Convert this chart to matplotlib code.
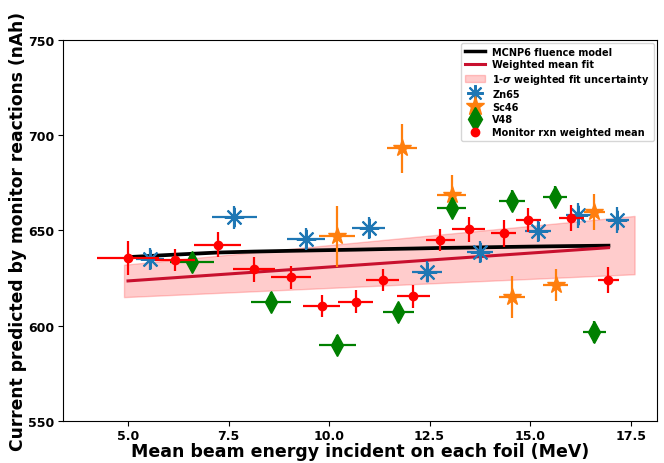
import numpy as np
import matplotlib
matplotlib.use("Agg")
import matplotlib.pyplot as plt
from matplotlib.lines import Line2D
from matplotlib.patches import Patch

plt.rcParams['font.weight'] = 'bold'
plt.rcParams['axes.labelweight'] = 'bold'

# monitor reaction weighted means
mon_E = [5.0, 6.17, 7.23, 8.13, 9.05, 9.82, 10.66, 11.33, 12.1, 12.77, 13.47, 14.34, 14.96, 16.03, 16.95]
mon_I = [635.5, 634.5, 642.5, 629.5, 625.5, 610.5, 612.5, 624.0, 615.5, 645.0, 650.5, 648.5, 655.5, 656.5, 624.0]
mon_dE = [0.78, 0.5, 0.58, 0.53, 0.5, 0.46, 0.44, 0.41, 0.4, 0.36, 0.4, 0.31, 0.31, 0.32, 0.27]
mon_dI = [9.0, 6.0, 6.5, 6.5, 6.0, 5.8, 6.0, 6.0, 6.0, 6.0, 6.5, 7.0, 6.5, 7.0, 7.0]

zn_E = [5.54, 7.64, 9.43, 10.99, 12.43, 13.75, 15.2, 16.2, 17.17]
zn_I = [635.0, 657.0, 645.5, 651.3, 628.2, 638.7, 649.7, 658.0, 655.5]
zn_dE = [0.35, 0.56, 0.48, 0.41, 0.37, 0.33, 0.32, 0.31, 0.29]
zn_dI = [6.0, 6.0, 6.0, 6.0, 5.5, 6.0, 6.0, 6.5, 6.8]

sc_E = [10.2, 11.82, 13.05, 14.55, 15.64, 16.6]
sc_I = [647.0, 693.0, 668.5, 615.0, 621.4, 659.7]
sc_dE = [0.45, 0.38, 0.36, 0.32, 0.31, 0.27]
sc_dI = [16.0, 13.0, 10.5, 11.0, 8.4, 9.4]

v_E = [6.6, 8.56, 10.2, 11.72, 13.05, 14.55, 15.62, 16.6]
v_I = [633.5, 612.5, 590.0, 607.0, 662.0, 665.5, 667.6, 596.7]
v_dE = [0.55, 0.5, 0.46, 0.39, 0.36, 0.33, 0.31, 0.28]
v_dI = [5.0, 5.0, 5.0, 5.0, 5.0, 5.5, 5.5, 6.0]

# MCNP6 fluence model at monitor energies
mcnp_I = [636.0, 637.3, 638.4, 638.9, 639.3, 639.6, 639.9, 640.2, 640.5, 640.8, 641.0, 641.3, 641.5, 641.8, 642.0]

# weighted linear fit and its 1-sigma band
fit_a, fit_b = 1.46, 616.2
band_E = [4.9, 17.6]
band_lo = [615.0, 627.0]
band_hi = [632.0, 657.6]

fig = plt.figure(figsize=(6.64, 4.64), dpi=100)
ax = fig.add_subplot(1, 1, 1)
fig.subplots_adjust(left=0.095, right=0.989, top=0.912, bottom=0.0905)

ax.plot(mon_E, mcnp_I, color='black', lw=2.7, zorder=3)
fe = np.array([mon_E[0], mon_E[-1]])
ax.plot(fe, fit_a * fe + fit_b, color='#c8102e', lw=2.2, zorder=3)
ax.fill_between(band_E, band_lo, band_hi, color='red', alpha=0.2, lw=1, zorder=1)

ax.errorbar(zn_E, zn_I, xerr=zn_dE, yerr=zn_dI, fmt='none', ecolor='#1f77b4', elinewidth=1.6, zorder=4)
ax.plot(zn_E, zn_I, ls='none', marker=(8, 2, 0), ms=14, mew=1.5, color='#1f77b4', zorder=4)
ax.errorbar(sc_E, sc_I, xerr=sc_dE, yerr=sc_dI, fmt='none', ecolor='#ff7f0e', elinewidth=1.6, zorder=4)
ax.plot(sc_E, sc_I, ls='none', marker='*', ms=13, color='#ff7f0e', zorder=4)
ax.errorbar(v_E, v_I, xerr=v_dE, yerr=v_dI, fmt='none', ecolor='green', elinewidth=1.6, zorder=4)
ax.plot(v_E, v_I, ls='none', marker='d', ms=11, color='green', zorder=4)
ax.errorbar(mon_E, mon_I, xerr=mon_dE, yerr=mon_dI, fmt='o', ms=6, color='red', elinewidth=1.6, zorder=5)

# legend handles
handles = [
    Line2D([], [], color='black', lw=2.5),
    Line2D([], [], color='#c8102e', lw=2.2),
    Patch(facecolor='red', alpha=0.2, edgecolor='red'),
    Line2D([], [], ls='none', marker=(8, 2, 0), ms=12, mew=1.5, color='#1f77b4'),
    Line2D([], [], ls='none', marker='*', ms=14, color='#ff7f0e'),
    Line2D([], [], ls='none', marker='d', ms=12, color='green'),
    Line2D([], [], ls='none', marker='o', ms=6, color='red'),
]
labels = ['MCNP6 fluence model', 'Weighted mean fit', r'1-$\sigma$ weighted fit uncertainty',
          'Zn65', 'Sc46', 'V48', 'Monitor rxn weighted mean']
ax.legend(handles, labels, loc='upper right', prop={'size': 7, 'weight': 'bold'},
          borderaxespad=0.3, labelspacing=0.28, handlelength=2.0)

ax.set_xlim(3.385, 18.15)
ax.set_ylim(550, 750)
ax.set_xticks([5.0, 7.5, 10.0, 12.5, 15.0, 17.5])
ax.set_yticks([550, 600, 650, 700, 750])
ax.tick_params(labelsize=9, pad=2.5)
ax.set_xlabel('Mean beam energy incident on each foil (MeV)', fontsize=12.5, fontweight='bold', labelpad=0)
ax.set_ylabel('Current predicted by monitor reactions (nAh)', fontsize=12.3, fontweight='bold', labelpad=1)

plt.savefig('out.png', dpi=100)
